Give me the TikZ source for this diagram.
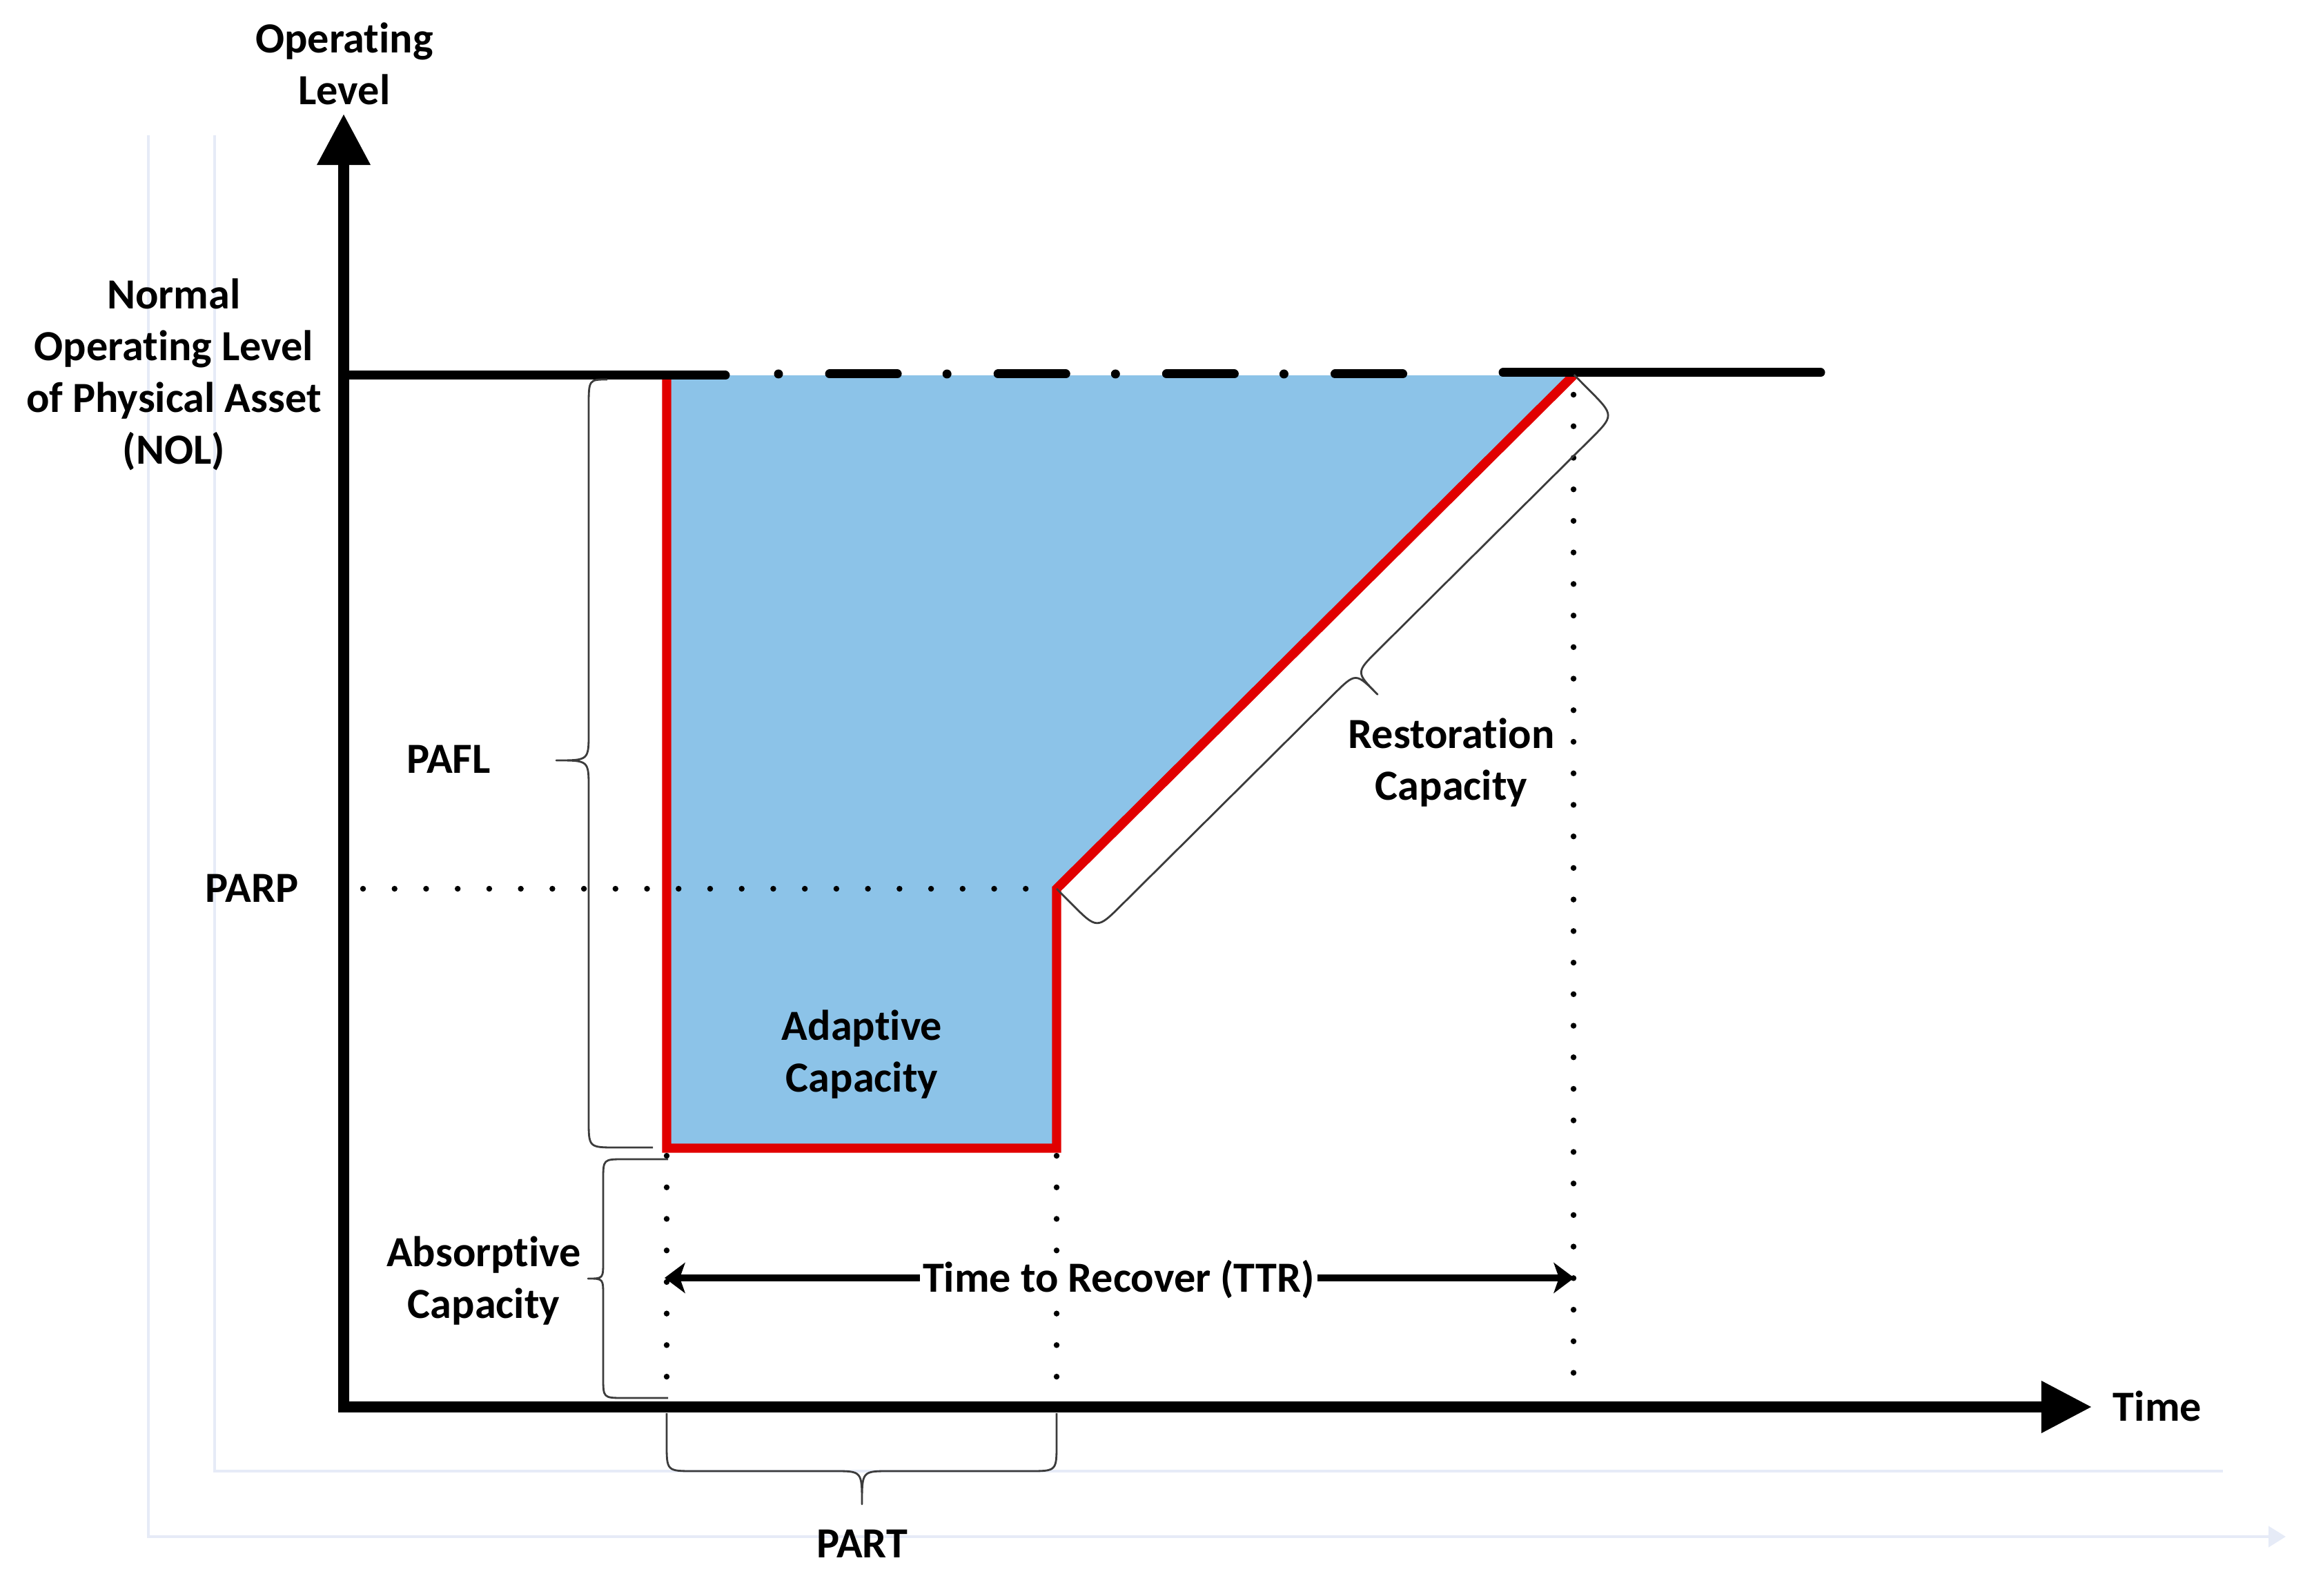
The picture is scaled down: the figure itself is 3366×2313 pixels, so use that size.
\documentclass[tikz,border=0pt]{standalone}
\usepackage{fontspec}
\setmainfont{Carlito}[Ligatures=NoCommon]
\usetikzlibrary{arrows.meta}
\definecolor{fillblue}{RGB}{140,195,232}
\definecolor{curvered}{RGB}{225,0,0}
\definecolor{faint}{RGB}{230,235,247}
\definecolor{bracegray}{RGB}{60,60,60}
\begin{document}
\begin{tikzpicture}[x=0.01cm,y=-0.01cm,
  lbl/.style={font=\fontsize{17.7}{21.3}\selectfont\bfseries, align=center, inner sep=0pt},
  axisline/.style={line width=4.8pt, line join=miter},
  nolline/.style={line width=3.7pt, line cap=round},
  redline/.style={draw=curvered, line width=3.8pt, line join=miter},
  dotline/.style={line width=2.4pt, line cap=round, dash pattern=on 0pt off 0.457cm},
  bracepath/.style={draw=bracegray, line width=0.8pt, line join=round},
  faintline/.style={draw=faint, line width=1.2pt},
  ttrline/.style={line width=2.8pt},
]
\useasboundingbox (0,0) rectangle (3366,2313);

% key points
\coordinate (O) at (498,2039);
\coordinate (Ytip) at (498,166);
\coordinate (Xtip) at (3030,2039);
\coordinate (A) at (966,544);
\coordinate (B) at (966,1664);
\coordinate (C) at (1531,1664);
\coordinate (D) at (1531,1288);
\coordinate (E) at (2280,544);

% faint frame lines
\coordinate (f1) at (215,196);
\coordinate (f2) at (215,2227);
\coordinate (f3) at (3312,2227);
\coordinate (g1) at (311,196);
\coordinate (g2) at (311,2132);
\coordinate (g3) at (3221,2132);
\draw[faintline] (g1) -- (g2) -- (g3);
\draw[faintline, -{Triangle[length=0.25cm,width=0.3cm]}] (f1) -- (f2) -- (f3);

% blue area
\fill[fillblue] (A) -- (B) -- (C) -- (D) -- (E) -- cycle;

% red curve
\draw[redline] (A) -- (B) -- (C) -- (D) -- (E);

% dotted guides
\coordinate (parpS) at (526,1288);
\draw[dotline] (parpS) -- (D);
\draw[dotline] (966,1675) -- (966,2040);
\draw[dotline] (1531,1675) -- (1531,2040);
\draw[dotline] (2280,572) -- (2280,1990);

% normal operating level line
\draw[nolline] (498,544) -- (1051,544);
\draw[nolline, dash pattern=on 0cm off 0.74cm on 0.98cm off 0.72cm] (1128,542) -- (2104,542);
\draw[nolline] (2178,540) -- (2638,540);

% braces
\draw[bracepath] (880,550) .. controls (853,550) .. (853,590) -- (853,1062)
  .. controls (853,1102) .. (806,1102) .. controls (853,1102) .. (853,1142)
  -- (853,1623) .. controls (853,1663) .. (893,1663) -- (946,1663);
\draw[bracepath] (968,1680) -- (904,1680) .. controls (874,1680) .. (874,1710) -- (874,1828)
  .. controls (874,1853) .. (852,1853) .. controls (874,1853) .. (874,1878)
  -- (874,1996) .. controls (874,2026) .. (904,2026) -- (968,2026);
\draw[bracepath] (966,2048) -- (966,2092) .. controls (966,2132) .. (1006,2132) -- (1209,2132)
  .. controls (1249,2132) .. (1249,2180) .. controls (1249,2132) .. (1289,2132)
  -- (1491,2132) .. controls (1531,2132) .. (1531,2092) -- (1531,2048);
\begin{scope}[shift={(D)}, x={(0.007096cm,0.007049cm)}, y={(0.007049cm,-0.007096cm)}]
\draw[bracepath] (0,0) -- (0,30) .. controls (0,83) .. (50,83) -- (483,83)
  .. controls (528,83) .. (528,128) .. controls (528,83) .. (573,83)
  -- (1006,83) .. controls (1056,83) .. (1056,30) -- (1056,0);
\end{scope}

% axes
\draw[axisline, {Triangle[length=0.73cm,width=0.78cm,line width=0pt]}-{Triangle[length=0.72cm,width=0.76cm,line width=0pt]}] (Ytip) -- (O) -- (Xtip);

% labels
\node[lbl] (oplevel) at (499,92) {Operating\\Level};
\node[lbl] (nol) at (252,543) {Normal\\Operating Level\\of Physical Asset\\(NOL)};
\node[lbl, anchor=base] (pafl) at (650,1121) {PAFL};
\node[lbl, anchor=base] (parp) at (365,1307) {PARP};
\node[lbl] (adaptive) at (1249,1528) {Adaptive\\Capacity};
\node[lbl] (restoration) at (2103,1105) {Restoration\\Capacity};
\node[lbl] (absorptive) at (701,1856) {Absorptive\\Capacity};
\node[lbl, anchor=base] (part) at (1249,2257) {PART};
\node[lbl, anchor=base] (time) at (3126,2059) {Time};

% time to recover
\coordinate (ttrL) at (963,1852);
\coordinate (ttrR) at (2281,1852);
\node[lbl, fill=white, inner xsep=1pt] (ttr) at (1621,1854) {Time to Recover (TTR)};
\draw[ttrline, -{Stealth[length=0.3cm,width=0.45cm,inset=0.08cm,line width=0pt]}] (ttr.west |- ttrL) -- (ttrL);
\draw[ttrline, -{Stealth[length=0.3cm,width=0.45cm,inset=0.08cm,line width=0pt]}] (ttr.east |- ttrR) -- (ttrR);
\end{tikzpicture}
\end{document}
